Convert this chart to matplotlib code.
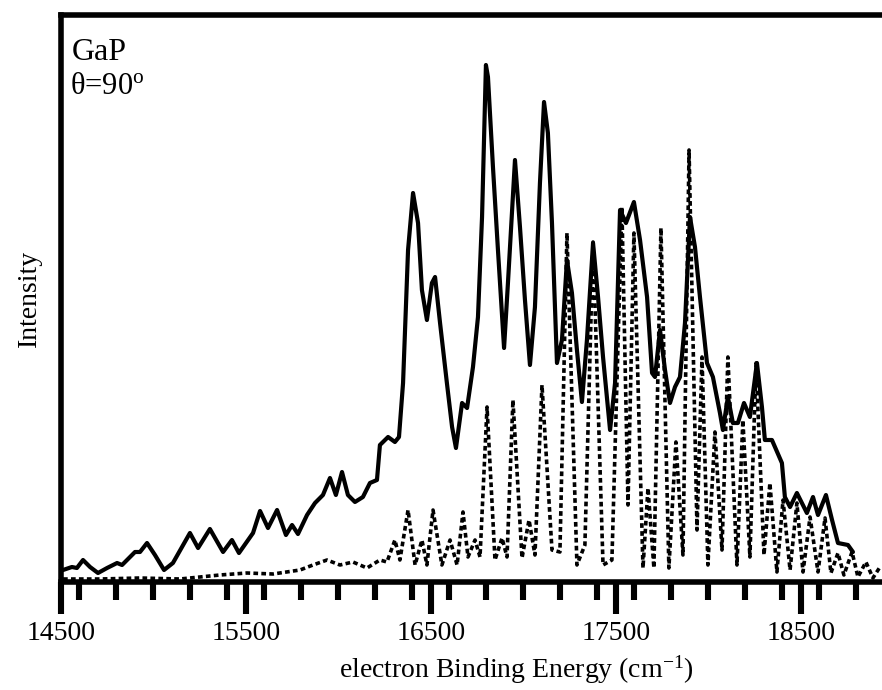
import matplotlib
matplotlib.use("Agg")
import matplotlib.pyplot as plt
from matplotlib.ticker import MultipleLocator

plt.rcParams['font.family'] = ['Liberation Serif', 'DejaVu Serif']
plt.rcParams['mathtext.fontset'] = 'custom'
plt.rcParams['mathtext.rm'] = 'Liberation Serif'
plt.rcParams['mathtext.it'] = 'Liberation Serif:italic'

# Experimental spectrum (solid line): binding energy (cm^-1), intensity (arb.)
exp_energy = [14511, 14559, 14586, 14619, 14657, 14700, 14749, 14803, 14830, 14900,
              14927, 14965, 15008, 15057, 15105, 15197, 15241, 15305, 15376, 15424,
              15462, 15538, 15576, 15619, 15668, 15716, 15749, 15781, 15830, 15873,
              15916, 15954, 15986, 16019, 16051, 16089, 16132, 16170, 16208, 16224,
              16268, 16305, 16327, 16349, 16376, 16403, 16430, 16451, 16478, 16505,
              16522, 16549, 16586, 16614, 16635, 16668, 16695, 16727, 16754, 16776,
              16797, 16808, 16835, 16862, 16895, 16916, 16954, 16981, 17008, 17035,
              17062, 17089, 17111, 17132, 17154, 17181, 17208, 17235, 17262, 17289,
              17316, 17343, 17376, 17403, 17430, 17468, 17495, 17522, 17554, 17597,
              17630, 17668, 17695, 17711, 17738, 17765, 17792, 17819, 17846, 17873,
              17900, 17927, 17954, 17992, 18024, 18062, 18078, 18105, 18132, 18159,
              18192, 18224, 18262, 18289, 18305, 18343, 18397, 18413, 18441, 18478,
              18505, 18532, 18565, 18592, 18635, 18668, 18700, 18754, 18781]
exp_intensity = [12, 15, 14, 22, 15, 9, 14, 19, 17, 30,
                 30, 39, 27, 12, 19, 49, 34, 53, 30, 42,
                 29, 49, 71, 54, 72, 47, 57, 48, 67, 79,
                 87, 104, 87, 110, 87, 80, 85, 99, 102, 137,
                 145, 140, 145, 199, 332, 389, 359, 292, 262, 299,
                 305, 259, 199, 155, 134, 179, 174, 215, 265, 365,
                 517, 505, 415, 332, 234, 299, 422, 355, 282, 217,
                 275, 399, 480, 449, 359, 219, 242, 322, 289, 232,
                 180, 242, 339, 285, 225, 152, 199, 372, 359, 380,
                 342, 285, 209, 205, 252, 212, 179, 195, 205, 259,
                 365, 335, 285, 219, 205, 169, 152, 185, 159, 159,
                 179, 165, 219, 175, 142, 142, 119, 85, 75, 89,
                 79, 69, 85, 67, 87, 62, 39, 37, 30]

# Simulated spectrum (dotted line)
sim_energy = [14511, 14711, 14927, 15143, 15359, 15505, 15646, 15792, 15862, 15938,
              16008, 16078, 16154, 16224, 16262, 16305, 16332, 16376, 16414, 16451,
              16478, 16511, 16559, 16603, 16641, 16673, 16700, 16738, 16765, 16803,
              16846, 16884, 16911, 16943, 16992, 17030, 17062, 17100, 17154, 17197,
              17235, 17289, 17332, 17376, 17430, 17478, 17532, 17565, 17597, 17646,
              17673, 17705, 17743, 17786, 17824, 17862, 17895, 17938, 17965, 17997,
              18035, 18073, 18105, 18154, 18186, 18224, 18257, 18300, 18332, 18370,
              18403, 18441, 18478, 18511, 18549, 18592, 18630, 18662, 18700, 18732,
              18776, 18808, 18851, 18889, 18927]
sim_intensity = [3, 3, 4, 3, 7, 9, 8, 12, 17, 22,
                 17, 20, 14, 22, 20, 42, 22, 72, 17, 42,
                 17, 72, 17, 42, 17, 70, 25, 42, 25, 175,
                 22, 44, 25, 182, 24, 62, 27, 197, 32, 30,
                 349, 17, 37, 340, 17, 22, 375, 77, 349, 14,
                 94, 14, 354, 14, 140, 27, 432, 52, 225, 17,
                 150, 32, 225, 17, 162, 25, 219, 27, 99, 10,
                 82, 12, 79, 10, 65, 10, 64, 9, 29, 7,
                 30, 5, 20, 4, 15]

x_major = [14500, 15500, 16500, 17500, 18500]

fig = plt.figure(figsize=(8.82, 6.9), dpi=100)
ax = fig.add_axes([61/882, 108/690, 821/882, 567/690])

ax.plot(exp_energy, exp_intensity, color='black', lw=3.0,
        solid_joinstyle='round', solid_capstyle='round')
ax.plot(sim_energy, sim_intensity, color='black', lw=2.6, linestyle=(0, (1.3, 0.9)))

ax.set_xlim(14500, 18938)
ax.set_ylim(0, 567)

ax.set_xticks(x_major)
ax.set_xticklabels([str(v) for v in x_major])
ax.xaxis.set_minor_locator(MultipleLocator(200))
ax.tick_params(axis='x', which='major', direction='out', length=23, width=4.4,
               labelsize=20, pad=5)
ax.tick_params(axis='x', which='minor', direction='out', length=13, width=4.4)
ax.set_yticks([])

for side in ['left', 'top', 'bottom']:
    ax.spines[side].set_linewidth(4.0)
ax.spines['right'].set_visible(False)

ax.set_ylabel('Intensity', fontsize=20, labelpad=14)
fig.text(516/882, 1 - 670/690, 'electron Binding Energy (cm$^{\\mathrm{-1}}$)',
         fontsize=20, ha='center', va='center')

ax.text(11/821, (582-60)/567, 'GaP', transform=ax.transAxes, fontsize=23,
        ha='left', va='baseline')
ax.text(9/821, (582-94)/567, 'θ=90$^{\\mathrm{o}}$', transform=ax.transAxes,
        fontsize=22, ha='left', va='baseline')

fig.savefig('out.png', dpi=100)
